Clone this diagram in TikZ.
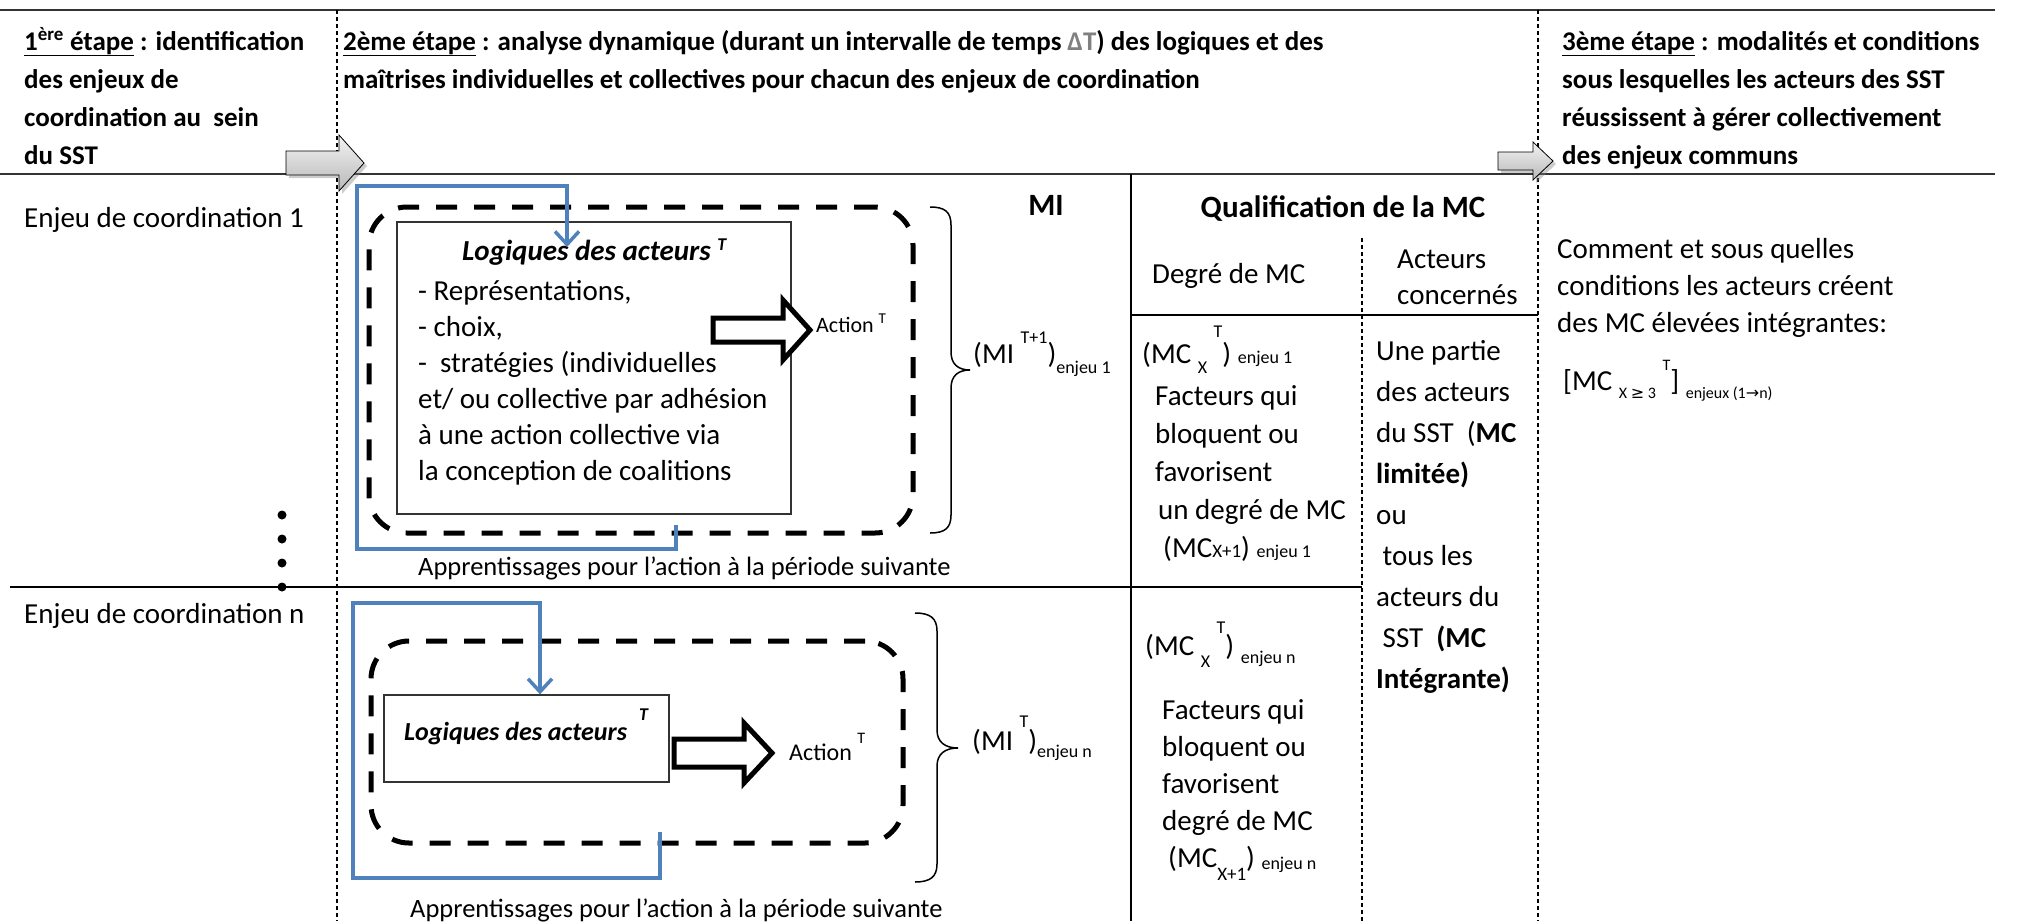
\documentclass[tikz,border=0pt]{standalone}
\usepackage{fontspec}
\setmainfont{Carlito}
\newfontfamily\symb{DejaVu Sans}
\usetikzlibrary{positioning, arrows.meta, shadows}
\definecolor{bleu}{HTML}{4F81BD}
\definecolor{grisdelta}{HTML}{808080}
\newcommand{\expo}[3][18]{\raisebox{#2}{\fontsize{#1}{#1}\selectfont #3}}
\tikzset{
filet/.style={line width=2.5pt, black!80}, % lignes du bandeau
sep/.style={line width=1.2pt, dash pattern=on 4pt off 3pt}, % separations en pointilles
trait/.style={line width=1.6pt},
cadre/.style={draw, line width=5pt, dash pattern=on 21pt off 17pt, rounded corners=38pt},
logique/.style={draw, black!80, line width=1.3pt},
retour/.style={draw=bleu, line width=3.5pt, -{Straight Barb[length=13pt,width=24pt]}}, % apprentissages
bloc/.style={draw, fill=white, line width=5pt, line join=miter},
etape/.style={draw, line width=0.8pt, top color=gray!10, bottom color=gray!55, drop shadow={shadow xshift=3pt, shadow yshift=-3pt, opacity=0.4}},
accolade/.style={line width=1.5pt},
txt/.style={inner sep=0pt, anchor=base west, align=left, font=\fontsize{29}{36}\selectfont}, % placed at the baseline of the last line
entete/.style={txt, font=\bfseries\fontsize{27}{38}\selectfont},
titre/.style={inner sep=0pt, anchor=base, font=\bfseries\fontsize{31}{36}\selectfont},
}
\begin{document}
\begin{tikzpicture}[x=1pt, y=-1pt]
        \useasboundingbox (0,0) rectangle (2017,921);

        % bandeau des etapes
        \draw[filet] (0,10) -- (1995,10);
        \draw[filet] (0,174) -- (1995,174);
        \draw[sep] (337,10) -- (337,921);
        \draw[sep] (1538,10) -- (1538,921);
        \draw[trait] (1131,174) -- (1131,921);
        \draw[trait] (1131,315) -- (1538,315);
        \draw[sep] (1362,238) -- (1362,921);
        \draw[trait] (10,587) -- (1362,587);
        \foreach \y in {515,539,563,587}
            \fill (282,\y) circle[radius=4.5pt];

        \node[entete] (etape1) at (24,164) {\underline{1\textsuperscript{ère} étape} : identification\\des enjeux de\\coordination au\ \ sein\\du SST};
        \node[entete] (etape2) at (343,88) {\underline{2ème étape} : analyse dynamique (durant un intervalle de temps {\color{grisdelta}ΔT}) des logiques et des\\maîtrises individuelles et collectives pour chacun des enjeux de coordination};
        \node[entete] (etape3) at (1562,164) {\underline{3ème étape} : modalités et conditions\\sous lesquelles les acteurs des SST\\réussissent à gérer collectivement\\des enjeux communs};

        \coordinate (fg1) at (286,163);
        \draw[etape] (fg1) ++(0,-12) -- ++(53,0) -- ++(0,-16) -- ++(25,28) -- ++(-25,28) -- ++(0,-16) -- ++(-53,0) -- cycle;
        \coordinate (fg2) at (1498,161);
        \draw[etape] (fg2) ++(0,-9) -- ++(35,0) -- ++(0,-10) -- ++(20,19) -- ++(-20,19) -- ++(0,-10) -- ++(-35,0) -- cycle;

        % titres des colonnes
        \node[titre] (mi) at (1046,215) {MI};
        \node[titre] (qual) at (1343,217) {Qualification de la MC};
        \node[txt] (degre) at (1152,283) {Degré de MC};
        \node[txt] (acteurs) at (1397,304) {Acteurs\\concernés};

        \node[txt] (enj1) at (24,227) {Enjeu de coordination 1};
        \node[txt] (enjn) at (24,623) {Enjeu de coordination n};

        % enjeu 1
        \node[cadre, minimum width=544pt, minimum height=326pt] (cadre1) at (641,370) {};
        \node[logique, minimum width=394pt, minimum height=292pt] (log1) at (594,368) {};
        \node[txt, font=\bfseries\itshape\fontsize{29}{36}\selectfont] (tit1) at (462,260) {Logiques des acteurs \expo{10pt}{T}};
        \node[txt] (liste1) at (418,480) {- Représentations,\\- choix,\\-\ \ stratégies (individuelles\\et/ ou collective par adhésion\\à une action collective via\\la conception de coalitions};
        \coordinate (ret1) at (676,525);
        \coordinate (bas1) at (357,549);
        \coordinate (haut1) at (567,186);
        \coordinate (vise1) at (567,247);
        \draw[retour] (ret1) |- (bas1) |- (haut1) -- (vise1);
        \coordinate (fl1) at (713,330);
        \draw[bloc] (fl1) ++(0,-12) -- ++(70,0) -- ++(0,-18) -- ++(27,30) -- ++(-27,30) -- ++(0,-18) -- ++(-70,0) -- cycle;
        \node[txt, font=\fontsize{22}{26}\selectfont] (act1) at (816,332) {Action \expo[15]{9pt}{T}};
        \node[txt, font=\fontsize{26.5}{30}\selectfont] (app1) at (418,575) {Apprentissages pour l’action à la période suivante};

        \draw[accolade] (930,207) .. controls (945,207) and (951,212) .. (951,225) -- (951,352) .. controls (951,364) and (958,370) .. (970,370) .. controls (958,370) and (951,376) .. (951,388) -- (951,515) .. controls (951,528) and (945,533) .. (930,533);
        \node[txt] (mi1) at (973,363) {(MI \expo{20pt}{T+1})\expo{-10pt}{enjeu 1}};

        \node[txt] (mcx1) at (1142,363) {(MC \expo{-10pt}{X} \expo{26pt}{T}) \expo{0pt}{enjeu 1}};
        \node[txt, font=\fontsize{29}{38}\selectfont] (fact1) at (1155,557) {Facteurs qui\\bloquent ou\\favorisent\\\hspace*{3pt}un degré de MC\\\hspace*{8pt}(MC{\fontsize{19}{19}\selectfont X+1}) \expo{0pt}{enjeu 1}};
        \node[txt, font=\fontsize{29}{41}\selectfont] (qui) at (1376,688) {Une partie\\des acteurs\\du SST\ \ (\textbf{MC}\\\textbf{limitée)}\\ou\\\hspace*{6.5pt}tous les\\acteurs du\\\hspace*{6.5pt}SST\ \ \textbf{(MC}\\\textbf{Intégrante)}};

        \node[txt, font=\fontsize{29}{37}\selectfont] (comment) at (1557,332) {Comment et sous quelles\\conditions les acteurs créent\\des MC élevées intégrantes:};
        \node[txt] (mcx3) at (1563,390) {[MC \expo[16]{-8pt}{X {\symb ≥} 3} \expo[16]{20pt}{T}] \expo[16]{-8pt}{enjeux (1{\symb →}n)}};

        % enjeu n
        \node[cadre, minimum width=532pt, minimum height=202pt] (cadre2) at (637,742) {};
        \node[logique, minimum width=285pt, minimum height=87pt] (log2) at (526.5,738.5) {};
        \node[txt, font=\bfseries\itshape\fontsize{26}{30}\selectfont] (tit2) at (404,740) {Logiques des acteurs\hspace{12pt}\expo{20pt}{T}};
        \coordinate (ret2) at (660,832);
        \coordinate (bas2) at (353,878);
        \coordinate (haut2) at (540,603);
        \draw[retour] (ret2) |- (bas2) |- (haut2) -- (haut2 |- log2.north);
        \coordinate (fl2) at (674,753);
        \draw[bloc] (fl2) ++(0,-14) -- ++(70,0) -- ++(0,-16) -- ++(28,30) -- ++(-28,30) -- ++(0,-16) -- ++(-70,0) -- cycle;
        \node[txt, font=\fontsize{24}{28}\selectfont] (act2) at (789,760) {Action \expo[16]{17pt}{T}};
        \node[txt, font=\fontsize{26.5}{30}\selectfont] (app2) at (410,917) {Apprentissages pour l’action à la période suivante};

        \draw[accolade] (915,613) .. controls (930,613) and (937,618) .. (937,631) -- (937,730) .. controls (937,742) and (945,748) .. (958,748) .. controls (945,748) and (937,754) .. (937,766) -- (937,864) .. controls (937,877) and (930,882) .. (915,882);
        \node[txt] (min) at (972,750) {(MI \expo{23pt}{T})\expo{-7pt}{enjeu n}};

        \node[txt] (mcxn) at (1145,655) {(MC \expo{-12pt}{X} \expo{22pt}{T}) \expo{-8pt}{enjeu n}};
        \node[txt, font=\fontsize{29}{37}\selectfont] (factn) at (1162,867) {Facteurs qui\\bloquent ou\\favorisent\\degré de MC\\\hspace*{6pt}(MC\expo[19]{-13pt}{X+1}) \expo{-2pt}{enjeu n}};
\end{tikzpicture}
\end{document}
